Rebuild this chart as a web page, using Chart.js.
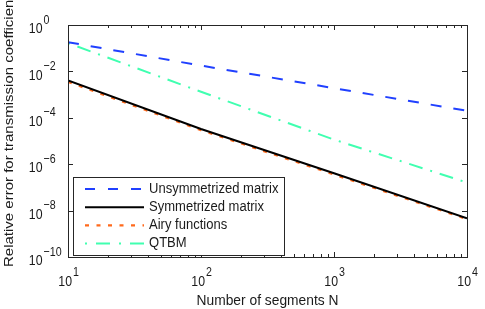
<!DOCTYPE html>
<html>
<head>
<meta charset="utf-8">
<script src="https://cdn.jsdelivr.net/npm/chart.js@4/dist/chart.umd.min.js"></script>
<style>
  html, body { margin: 0; padding: 0; background: #fff; }
  #wrap { width: 485px; height: 309px; position: relative; }
</style>
</head>
<body>
<div id="wrap"><canvas id="errChart" width="485" height="309"></canvas></div>
<script>
// segment counts N
const nValues = [10, 100, 1000, 10000];

// relative error
const unsymmetrized = [0.182, 0.0178, 1.9e-3, 2.0e-4];
const symmetrized = [4.07e-3, 3.3e-5, 4.1e-7, 4.7e-9];
const airy = [3.55e-3, 2.95e-5, 3.6e-7, 4.3e-9];
const qtbm = [0.166, 1.32e-3, 1.15e-5, 1.62e-7];

const seriesNames = ['Unsymmetrized matrix', 'Symmetrized matrix', 'Airy functions', 'QTBM'];

const xTickExps = [1, 2, 3, 4];
const yTickExps = [0, -2, -4, -6, -8, -10];

const FONT = '"Liberation Sans", Arial, Helvetica, sans-serif';

const toPoints = arr => arr.map((v, i) => ({ x: nValues[i], y: v }));

// text is a bit narrow in the original, so squeeze it horizontally
function txt(ctx, s, x, y, size, sx, align) {
    ctx.save();
    ctx.translate(x, y);
    ctx.scale(sx, 1);
    ctx.font = size + 'px ' + FONT;
    ctx.textAlign = align;
    ctx.textBaseline = 'middle';
    ctx.fillText(s, 0, 0);
    ctx.restore();
}

// draws the matlab-ish box, ticks, superscript labels and the legend
const axesPlugin = {
    id: 'axesPlugin',
    afterDraw(chart) {
        const { ctx, chartArea: a, scales } = chart;
        const xs = scales.x, ys = scales.y;
        ctx.save();
        ctx.strokeStyle = '#262626';
        ctx.lineWidth = 1;
        ctx.strokeRect(Math.round(a.left) + 0.5, Math.round(a.top) + 0.5,
            Math.round(a.right - a.left), Math.round(a.bottom - a.top));

        // x ticks (major + minor) top and bottom
        ctx.beginPath();
        for (let e = 1; e <= 4; e++) {
            for (let m = 1; m <= 9; m++) {
                const v = m * Math.pow(10, e);
                if (v > 10000) break;
                const px = Math.round(xs.getPixelForValue(v)) + 0.5;
                const len = m === 1 ? 5 : 3;
                ctx.moveTo(px, a.bottom); ctx.lineTo(px, a.bottom - len);
                ctx.moveTo(px, a.top); ctx.lineTo(px, a.top + len);
            }
        }
        // y ticks left and right
        yTickExps.forEach(e => {
            const py = Math.round(ys.getPixelForValue(Math.pow(10, e))) + 0.5;
            ctx.moveTo(a.left, py); ctx.lineTo(a.left + 5, py);
            ctx.moveTo(a.right, py); ctx.lineTo(a.right - 5, py);
        });
        ctx.stroke();

        ctx.fillStyle = '#1a1a1a';
        // y labels
        yTickExps.forEach(e => {
            const py = ys.getPixelForValue(Math.pow(10, e));
            const exp = e === 0 ? '0' : '\u2212' + Math.abs(e);
            txt(ctx, '10', 42.5, py + 4, 15, 0.82, 'right');
            txt(ctx, exp, 43.5, py - 5, 13, 0.82, 'left');
        });
        // x labels
        xTickExps.forEach(e => {
            const px = xs.getPixelForValue(Math.pow(10, e));
            txt(ctx, '10', px + 4, 282, 15, 0.82, 'right');
            txt(ctx, String(e), px + 5, 272, 13, 0.82, 'left');
        });

        // axis titles
        txt(ctx, 'Number of segments N', (a.left + a.right) / 2, 301, 15, 0.92, 'center');
        ctx.save();
        ctx.translate(9, 267);
        ctx.rotate(-Math.PI / 2);
        ctx.scale(1, 0.9);
        ctx.font = '15px ' + FONT;
        ctx.textAlign = 'left';
        ctx.textBaseline = 'middle';
        ctx.fillText('Relative error for transmission coefficient', 0, 0);
        ctx.restore();

        // legend box
        const lx = 73, ly = 177, lw = 211, lh = 78;
        ctx.fillStyle = '#fff';
        ctx.fillRect(lx, ly, lw, lh);
        ctx.strokeStyle = '#262626';
        ctx.lineWidth = 1;
        ctx.strokeRect(lx + 0.5, ly + 0.5, lw, lh);
        chart.data.datasets.forEach((ds, i) => {
            const ry = 189 + i * 18.2;
            ctx.beginPath();
            ctx.strokeStyle = ds.borderColor;
            ctx.lineWidth = ds.borderWidth;
            ctx.setLineDash(ds.legendDash || ds.borderDash || []);
            ctx.moveTo(85, ry); ctx.lineTo(144, ry);
            ctx.stroke();
            ctx.setLineDash([]);
            ctx.fillStyle = '#1a1a1a';
            txt(ctx, ds.label, 149, ry, 14, 0.93, 'left');
        });
        ctx.restore();
    }
};

const ctx = document.getElementById('errChart').getContext('2d');
new Chart(ctx, {
    type: 'line',
    data: {
        datasets: [
            {
                label: seriesNames[0],
                data: toPoints(unsymmetrized),
                borderColor: '#2040ff',
                borderWidth: 2,
                borderDash: [11, 12],
                legendDash: [10, 13]
            },
            {
                label: seriesNames[1],
                data: toPoints(symmetrized),
                borderColor: '#000000',
                borderWidth: 2
            },
            {
                label: seriesNames[2],
                data: toPoints(airy),
                borderColor: '#ff6a1c',
                borderWidth: 2.2,
                borderDash: [4, 7.5]
            },
            {
                label: seriesNames[3],
                data: toPoints(qtbm),
                borderColor: '#40ffb0',
                borderWidth: 2,
                borderDash: [2, 8, 14, 8],
                legendDash: [2, 9, 14, 9]
            }
        ]
    },
    options: {
        responsive: false,
        animation: false,
        layout: { padding: { left: 68, right: 18, top: 25, bottom: 52 } },
        elements: { point: { radius: 0 }, line: { tension: 0, fill: false } },
        plugins: { legend: { display: false }, tooltip: { enabled: false } },
        scales: {
            x: { type: 'logarithmic', min: 10, max: 10000, display: false },
            y: { type: 'logarithmic', min: 1e-10, max: 1, display: false }
        }
    },
    plugins: [axesPlugin]
});
</script>
</body>
</html>
